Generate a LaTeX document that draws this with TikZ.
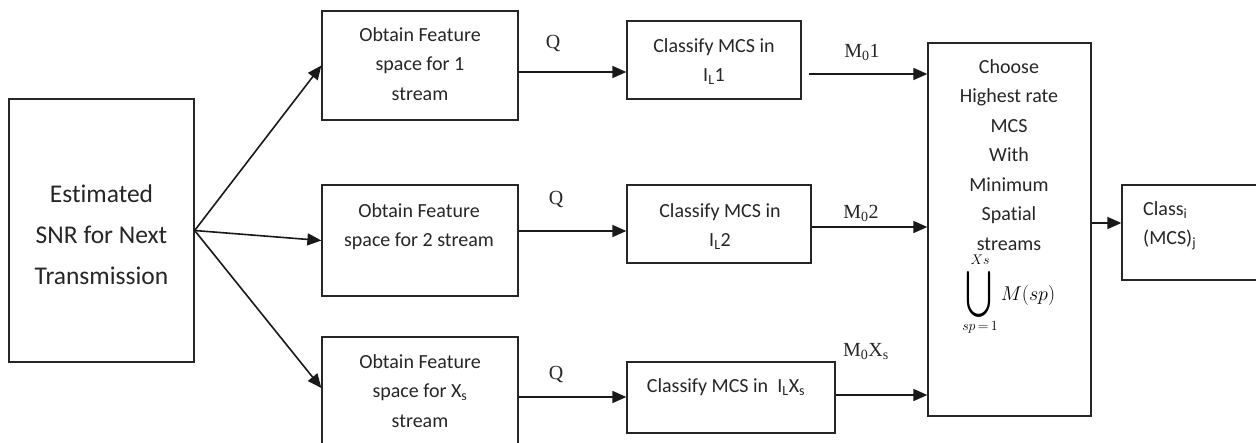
\RequirePackage{fix-cm}
\documentclass[tikz,border=0pt]{standalone}
\usepackage{amsmath}
\usepackage{fontspec}
\usepackage{graphicx}
\setmainfont{Carlito}[Ligatures=NoCommon]
\newfontfamily\tms{Liberation Serif}
\usetikzlibrary{arrows.meta,calc}

\tikzset{
  box/.style={draw=black!85, line width=1.3pt, inner sep=0pt},
  txt/.style={align=center, anchor=north, inner sep=0pt, text=black!85,
              font=\fontsize{20}{29.5}\selectfont},
  lbl/.style={inner sep=0pt, text=black!85, font=\tms\fontsize{20}{24}\selectfont},
  arr/.style={line width=1.6pt, black!90, -{Triangle[length=14pt,width=12pt]}},
}

\begin{document}
\begin{tikzpicture}[x=1pt,y=-1pt]
\path[use as bounding box, fill=white] (0,0) rectangle (1256,442);

% blocks
\node[box, minimum width=185pt, minimum height=263pt] (L)  at (101.5,230.5) {};
\node[box, minimum width=196pt, minimum height=109pt] (O1) at (420,65.5) {};
\node[box, minimum width=196pt, minimum height=111pt] (O2) at (420,240.5) {};
\node[box, minimum width=196pt, minimum height=113pt] (O3) at (420,393.5) {};
\node[box, minimum width=174pt, minimum height=78pt]  (C1) at (714,60) {};
\node[box, minimum width=184pt, minimum height=78pt]  (C2) at (719,224) {};
\node[box, minimum width=208pt, minimum height=71pt]  (C3) at (731,397.5) {};
\node[box, minimum width=163pt, minimum height=373pt] (B)  at (1009.5,229.5) {};
\node[box, minimum width=148pt, minimum height=95pt]  (R)  at (1196,232.5) {};

% block texts
\node[txt, font=\fontsize{25.5}{41}\selectfont] (Lt) at (101.5,184.5)
  {Estimated\\SNR for Next\\Transmission};
\node[txt] (O1t) at (420,27) {Obtain Feature\\space for 1\\stream};
\node[txt] (O2t) at (419,203) {Obtain Feature\\space for 2 stream};
\node[txt] (O3t) at (420,354) {Obtain Feature\\space for X\textsubscript{s}\\stream};
\node[txt] (C1t) at (714,38) {Classify MCS in\\I\textsubscript{L}1};
\node[txt] (C2t) at (720,203) {Classify MCS in\\I\textsubscript{L}2};
\node[txt] (C3t) at (726,378) {Classify MCS in\ \ I\textsubscript{L}X\textsubscript{s}};
\node[txt] (Bt) at (1009,59)
  {Choose\\Highest rate\\MCS\\With\\Minimum\\Spatial\\streams};
\node[txt, anchor=north west, align=left] (Rt) at (1143,201)
  {Class\textsubscript{i}\\(MCS)\textsubscript{j}};

% union over the spatial streams
\node[inner sep=0pt] (U) at (979,294)
  {\resizebox{27pt}{46pt}{\raisebox{\depth}{$\bigcup$}}};
\node[inner sep=0pt, font=\fontsize{14}{16}\selectfont] (Uup) at (980,260) {$Xs$};
\node[inner sep=0pt, font=\fontsize{14}{16}\selectfont] (Ulo) at (980,327) {$sp\,{=}\,1$};
\node[inner sep=0pt, font=\fontsize{20}{24}\selectfont] (Um) at (1028,295) {$M(sp)$};

% fan-out from the SNR estimate
\draw[arr] (L.east) -- (O1.west);
\draw[arr] (L.east) -- (O2.west);
\draw[arr] (L.east) -- ([yshift=5.5pt]O3.west);

% feature space to classifier
\draw[arr] ([yshift=-6.5pt]O1.east) -- ([yshift=-6.5pt]O1.east -| C1.west);
\draw[arr] ([yshift=9.5pt]O2.east) -- ([yshift=9.5pt]O2.east -| C2.west);
\draw[arr] ([yshift=-3.5pt]O3.east) -- ([yshift=-3.5pt]O3.east -| C3.west);
\node[lbl] (Q1) at (553,43) {Q};
\node[lbl] (Q2) at (556,199) {Q};
\node[lbl] (Q3) at (556,374) {Q};

% classifier outputs to the selection block
\draw[arr] ([xshift=7pt,yshift=-14pt]C1.east) -- ([yshift=-14pt]C1.east -| B.west);
\draw[arr] ([yshift=-3pt]C2.east) -- ([yshift=-3pt]C2.east -| B.west);
\draw[arr] ([yshift=2.5pt]C3.east) -- ([yshift=2.5pt]C3.east -| B.west);
\node[lbl] (M1) at (862,52) {M\textsubscript{0}1};
\node[lbl] (M2) at (861,213) {M\textsubscript{0}2};
\node[lbl] (M3) at (866,352) {M\textsubscript{0}X\textsubscript{s}};

% selected class
\draw[arr] ([yshift=6.5pt]B.east) -- ([yshift=6.5pt]B.east -| R.west);
\end{tikzpicture}
\end{document}
